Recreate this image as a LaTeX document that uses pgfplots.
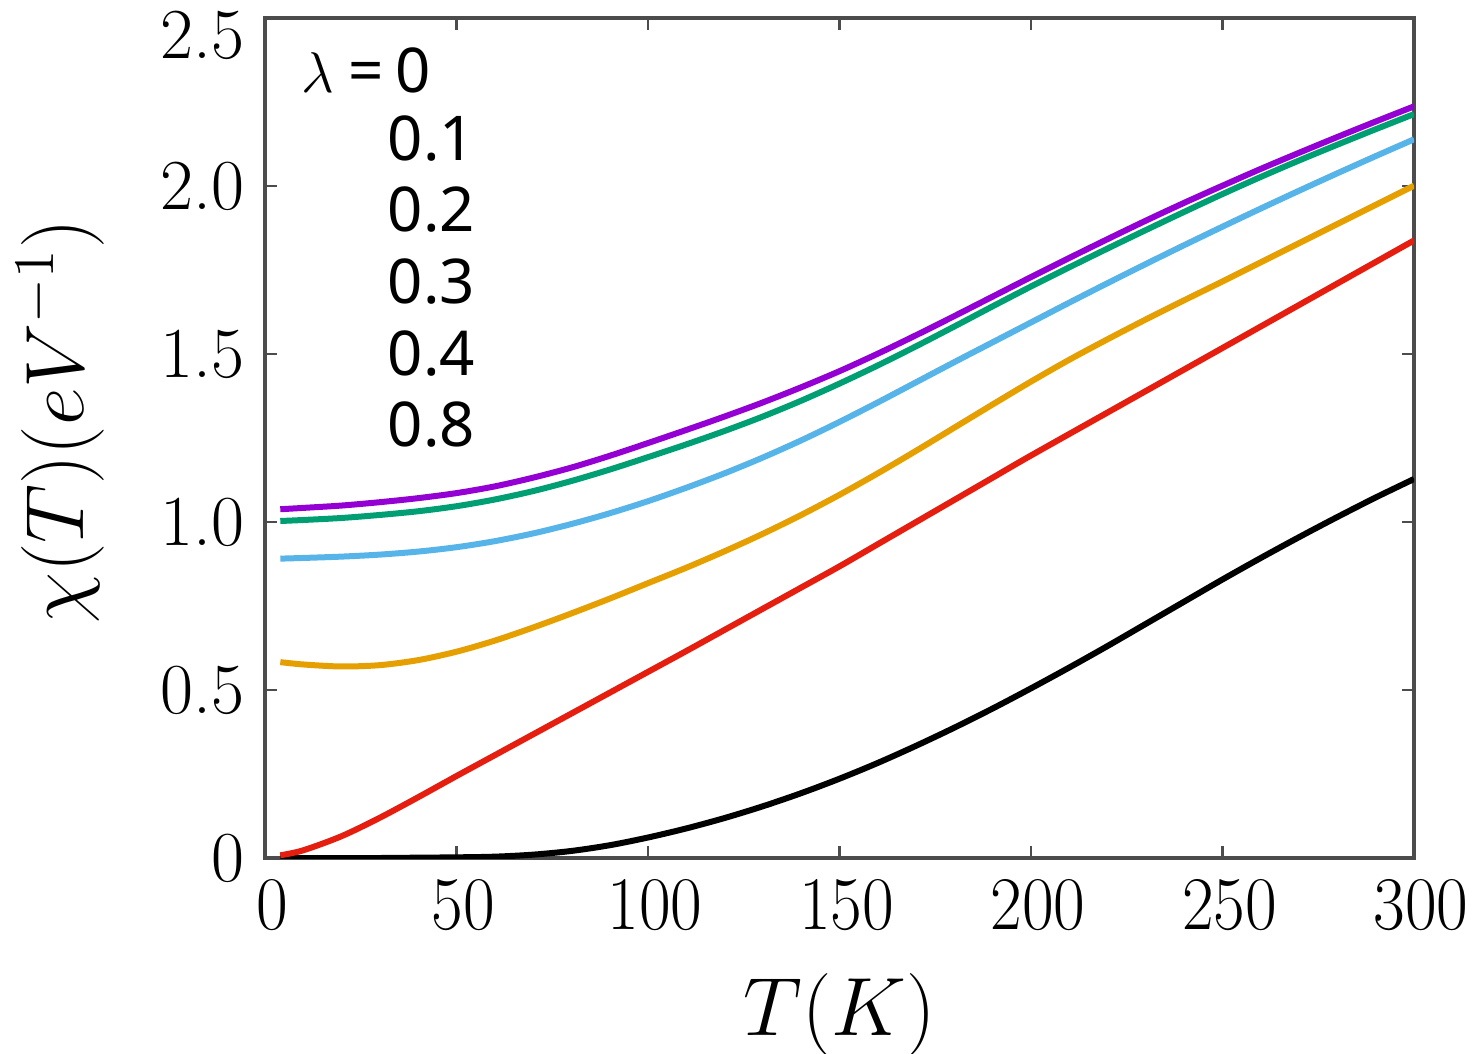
\documentclass[border=0pt]{standalone}
\usepackage{fontspec}
\usepackage{pgfplots}
\pgfplotsset{compat=1.18}
\usetikzlibrary{calc}
\newfontfamily\legfont{Noto Sans}
\definecolor{cpurple}{HTML}{9400D3}
\definecolor{cgreen}{HTML}{009E73}
\definecolor{cblue}{HTML}{56B4E9}
\definecolor{corange}{HTML}{E69F00}
\definecolor{cred}{HTML}{E51E10}
\begin{document}
\begin{tikzpicture}
\begin{axis}[
  name=ax,
  scale only axis, width=287.25bp, height=210bp,
  xmin=0, xmax=300, ymin=0, ymax=2.5,
  xtick={0,50,100,150,200,250,300},
  ytick={0,0.5,1.0,1.5,2.0,2.5},
  yticklabels={0,0.5,1.0,1.5,2.0,\raisebox{-4.25bp}[11.6bp][0pt]{2.5}},
  tick align=inside, major tick length=3bp,
  tick style={line width=0.6bp, color=black!70},
  axis line style={line width=0.9bp, color=black!70},
  ticklabel style={inner sep=0pt},
  xticklabel style={font=\fontsize{16}{16}\selectfont, yscale=1.1, anchor=north, yshift=-5bp, xshift=1.75bp},
  yticklabel style={font=\fontsize{18}{18}\selectfont, anchor=east, xshift=-5bp},
  label style={inner sep=0pt},
  xlabel={$T(K)$},
  ylabel={$\chi(T)(eV^{-1})$},
  xlabel style={font=\fontsize{20}{20}\selectfont, at={([yshift=-28.75bp]axis description cs:0.5,0)}, anchor=north},
  ylabel style={font=\fontsize{20.5}{20.5}\selectfont, at={([xshift=-40bp]axis description cs:0,0.52)}, anchor=south},
  every axis plot/.append style={line width=1.5bp, smooth, no markers},
]
% lambda = 0
\addplot[black] coordinates {(4,0) (10,0) (20,0) (30,0) (40,0.001) (50,0.002) (60,0.004) (70,0.010) (80,0.021) (90,0.038) (100,0.061) (110,0.088) (120,0.119) (130,0.154) (140,0.193) (150,0.236) (160,0.283) (170,0.334) (180,0.388) (190,0.445) (200,0.505) (210,0.567) (220,0.631) (230,0.697) (240,0.763) (250,0.829) (260,0.893) (270,0.955) (280,1.015) (290,1.073) (300,1.128)};
% lambda = 0.1
\addplot[cred] coordinates {(4,0.008) (10,0.023) (20,0.065) (30,0.12) (40,0.181) (50,0.244) (60,0.306) (70,0.368) (80,0.430) (90,0.492) (100,0.554) (110,0.616) (120,0.679) (130,0.742) (140,0.805) (150,0.868) (160,0.934) (170,1.000) (180,1.066) (190,1.132) (200,1.198) (225,1.358) (250,1.518) (275,1.678) (300,1.838)};
% lambda = 0.2
\addplot[corange] coordinates {(4,0.583) (10,0.576) (20,0.570) (30,0.574) (40,0.589) (50,0.614) (60,0.647) (70,0.686) (80,0.728) (90,0.772) (100,0.818) (110,0.864) (120,0.913) (130,0.965) (140,1.021) (150,1.081) (160,1.145) (170,1.212) (180,1.281) (190,1.350) (200,1.418) (210,1.483) (220,1.544) (230,1.603) (240,1.660) (250,1.716) (260,1.773) (270,1.830) (280,1.887) (290,1.944) (300,2.001)};
% lambda = 0.3
\addplot[cblue] coordinates {(4,0.891) (10,0.893) (20,0.897) (30,0.903) (40,0.912) (50,0.925) (60,0.943) (70,0.966) (80,0.994) (90,1.026) (100,1.062) (110,1.102) (120,1.145) (130,1.192) (140,1.243) (150,1.298) (160,1.356) (170,1.416) (180,1.476) (190,1.535) (200,1.594) (210,1.653) (220,1.711) (230,1.768) (240,1.824) (250,1.879) (260,1.933) (270,1.986) (280,2.038) (290,2.089) (300,2.139)};
% lambda = 0.4
\addplot[cgreen] coordinates {(4,1.003) (10,1.006) (20,1.012) (30,1.021) (40,1.032) (50,1.047) (60,1.067) (70,1.092) (80,1.122) (90,1.156) (100,1.193) (110,1.231) (120,1.271) (130,1.314) (140,1.361) (150,1.412) (160,1.466) (170,1.523) (180,1.582) (190,1.642) (200,1.701) (210,1.758) (220,1.814) (230,1.869) (240,1.923) (250,1.976) (260,2.027) (270,2.076) (280,2.123) (290,2.169) (300,2.214)};
% lambda = 0.8
\addplot[cpurple] coordinates {(4,1.038) (10,1.042) (20,1.049) (30,1.059) (40,1.071) (50,1.086) (60,1.106) (70,1.132) (80,1.162) (90,1.197) (100,1.235) (110,1.274) (120,1.314) (130,1.356) (140,1.401) (150,1.449) (160,1.501) (170,1.556) (180,1.613) (190,1.671) (200,1.729) (210,1.786) (220,1.842) (230,1.897) (240,1.950) (250,2.001) (260,2.051) (270,2.099) (280,2.146) (290,2.192) (300,2.237)};
\begin{scope}[every node/.style={anchor=west, inner sep=0pt, font=\legfont\fontsize{15.5}{15.5}\selectfont}]
\node at (axis cs:9.4,2.345) {$\lambda$\hspace{3.5bp}=\hspace{3bp}0};
\node at (axis cs:31.9,2.142) {0.1};
\node at (axis cs:31.9,1.930) {0.2};
\node at (axis cs:31.9,1.715) {0.3};
\node at (axis cs:31.9,1.501) {0.4};
\node at (axis cs:31.9,1.289) {0.8};
\end{scope}
\end{axis}
\pgfresetboundingbox
\path[use as bounding box] ($(ax.south west)+(-66.25bp,-49bp)$) rectangle ($(ax.north east)+(15bp,4.5bp)$);
\end{tikzpicture}
\end{document}
